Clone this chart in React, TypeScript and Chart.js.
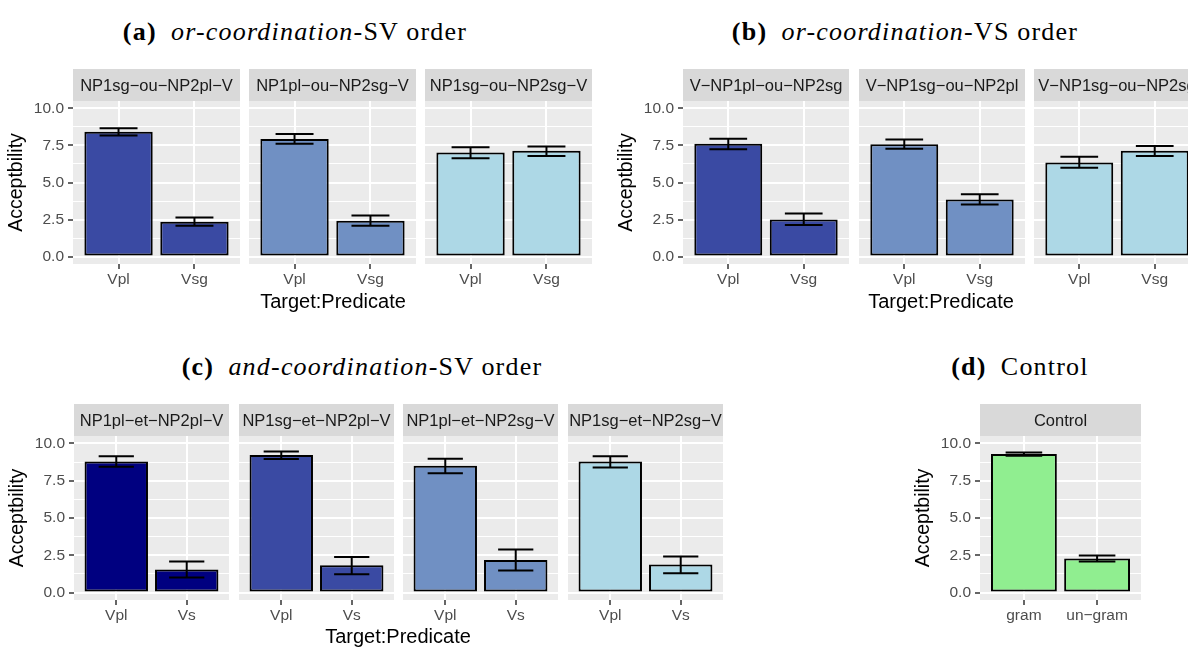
import React, { useEffect, useRef } from "react";
import { Chart, registerables } from "chart.js";

Chart.register(...registerables);

// ---------------- data ----------------
const Y_MAJOR = [0, 2.5, 5, 7.5, 10];
const Y_MINOR = [1.25, 3.75, 6.25, 8.75];

const PRED_OU = ["Vpl", "Vsg"];
const PRED_ET = ["Vpl", "Vs"];
const PRED_CTRL = ["gram", "un−gram"];

const FACETS_A = ["NP1sg−ou−NP2pl−V", "NP1pl−ou−NP2sg−V", "NP1sg−ou−NP2sg−V"];
const MEAN_A = [[8.43, 2.35], [7.94, 2.42], [7.02, 7.14]];
const LOW_A = [[8.17, 2.08], [7.61, 2.08], [6.64, 6.78]];
const HIGH_A = [[8.66, 2.64], [8.28, 2.77], [7.38, 7.43]];

const FACETS_B = ["V−NP1pl−ou−NP2sg", "V−NP1sg−ou−NP2pl", "V−NP1sg−ou−NP2sg"];
const MEAN_B = [[7.61, 2.51], [7.58, 3.85], [6.35, 7.14]];
const LOW_B = [[7.25, 2.13], [7.27, 3.51], [6.0, 6.78]];
const HIGH_B = [[7.96, 2.91], [7.9, 4.21], [6.73, 7.47]];

const FACETS_C = ["NP1pl−et−NP2pl−V", "NP1sg−et−NP2pl−V", "NP1pl−et−NP2sg−V", "NP1sg−et−NP2sg−V"];
const MEAN_C = [[8.79, 1.54], [9.22, 1.83], [8.5, 2.19], [8.79, 1.88]];
const LOW_C = [[8.43, 1.01], [8.96, 1.23], [8.0, 1.48], [8.39, 1.3]];
const HIGH_C = [[9.15, 2.08], [9.46, 2.39], [8.97, 2.88], [9.15, 2.42]];

const FACETS_D = ["Control"];
const MEAN_D = [[9.29, 2.28]];
const LOW_D = [[9.17, 2.08]];
const HIGH_D = [[9.4, 2.48]];

const FILL_A = ["#3A4AA3", "#7090C3", "#ADD8E6"];
const FILL_B = ["#3A4AA3", "#7090C3", "#ADD8E6"];
const FILL_C = ["#000080", "#3A4AA3", "#7090C3", "#ADD8E6"];
const FILL_D = ["#90EE90"];

const Y_TITLE = "Acceptbility";
const X_TITLE = "Target:Predicate";

// ---------------- layout / style ----------------
const SANS = '"Liberation Sans", Arial, sans-serif';
const SERIF = '"Liberation Serif", "Times New Roman", serif';
const STRIP_H = 32;
const X_AXIS_H = 30;
const Y_AXIS_W = 73;
const ERR_HALF = 0.25;

const COL_A = [73, 249, 425];
const COL_B = [683, 859, 1034];
const COL_C = [74, 239, 403, 568];
const COL_D = [980];

type FacetProps = {
  label: string;
  cats: string[];
  mean: number[];
  low: number[];
  high: number[];
  fill: string;
  showY: boolean;
  left: number;
  panelTop: number;
  width: number;
  panelH: number;
};

function Facet(p: FacetProps) {
  const ref = useRef<HTMLCanvasElement>(null);
  const axisW = p.showY ? Y_AXIS_W : 0;
  const cw = p.width + axisW;
  const ch = STRIP_H + p.panelH + X_AXIS_H;

  useEffect(() => {
    if (!ref.current) return;
    const facetPlugin = {
      id: "facet",
      beforeDraw(chart: any) {
        const { ctx, chartArea: a } = chart;
        ctx.save();
        ctx.fillStyle = "#EBEBEB";
        ctx.fillRect(a.left, a.top, a.right - a.left, a.bottom - a.top);
        ctx.fillStyle = "#D9D9D9";
        ctx.fillRect(a.left, a.top - STRIP_H, a.right - a.left, STRIP_H);
        ctx.fillStyle = "#1A1A1A";
        ctx.font = `16.5px ${SANS}`;
        ctx.textAlign = "center";
        ctx.textBaseline = "middle";
        ctx.fillText(p.label, (a.left + a.right) / 2, a.top - STRIP_H / 2 + 1);
        ctx.restore();
      },
      afterDatasetsDraw(chart: any) {
        const { ctx } = chart;
        const xs = chart.scales.x;
        const ys = chart.scales.y;
        const half = xs.getPixelForValue(1 + ERR_HALF) - xs.getPixelForValue(1);
        ctx.save();
        ctx.strokeStyle = "#000000";
        ctx.lineWidth = 2;
        p.low.forEach((lo, i) => {
          const x = xs.getPixelForValue(i + 1);
          const y1 = ys.getPixelForValue(lo);
          const y2 = ys.getPixelForValue(p.high[i]);
          ctx.beginPath();
          ctx.moveTo(x, y1);
          ctx.lineTo(x, y2);
          ctx.moveTo(x - half, y1);
          ctx.lineTo(x + half, y1);
          ctx.moveTo(x - half, y2);
          ctx.lineTo(x + half, y2);
          ctx.stroke();
        });
        ctx.restore();
      },
    };

    const chart = new Chart(ref.current, {
      type: "bar",
      data: {
        datasets: [
          {
            data: p.mean.map((v, i) => ({ x: i + 1, y: v })),
            backgroundColor: p.fill,
            borderColor: "#000000",
            borderWidth: 2,
            borderSkipped: false,
            barPercentage: 0.9,
            categoryPercentage: 1,
          } as any,
        ],
      },
      options: {
        responsive: false,
        animation: false,
        devicePixelRatio: 1,
        layout: { padding: { top: STRIP_H, left: 0, right: 0, bottom: 0 } },
        plugins: { legend: { display: false }, tooltip: { enabled: false } },
        scales: {
          x: {
            type: "linear",
            min: 0.4,
            max: 2.6,
            offset: false,
            afterBuildTicks: (s: any) => {
              s.ticks = p.cats.map((_, i) => ({ value: i + 1 }));
            },
            afterFit: (s: any) => {
              s.height = X_AXIS_H;
            },
            ticks: {
              autoSkip: false,
              maxRotation: 0,
              padding: 1,
              color: "#4D4D4D",
              font: { family: SANS, size: 15.5 },
              callback: (v: any) => p.cats[Math.round(Number(v)) - 1] ?? "",
            },
            grid: {
              color: "#FFFFFF",
              lineWidth: 2,
              offset: false,
              drawTicks: true,
              tickLength: 5,
              tickColor: "#333333",
              tickWidth: 1.5,
            },
            border: { display: false },
          } as any,
          y: {
            type: "linear",
            min: -0.5,
            max: 10.5,
            afterBuildTicks: (s: any) => {
              s.ticks = [...Y_MINOR, ...Y_MAJOR]
                .sort((a, b) => a - b)
                .map((v) => ({ value: v }));
            },
            afterFit: (s: any) => {
              s.width = axisW;
            },
            ticks: {
              display: p.showY,
              autoSkip: false,
              padding: 4,
              color: "#4D4D4D",
              font: { family: SANS, size: 15.5 },
              callback: (v: any) => (Y_MAJOR.includes(Number(v)) ? Number(v).toFixed(1) : ""),
            },
            grid: {
              color: "#FFFFFF",
              lineWidth: (c: any) => (c.tick && Y_MAJOR.includes(c.tick.value) ? 2 : 1),
              drawTicks: p.showY,
              tickLength: 5,
              tickWidth: 1.5,
              tickColor: (c: any) =>
                c.tick && Y_MAJOR.includes(c.tick.value) ? "#333333" : "rgba(0,0,0,0)",
            },
            border: { display: false },
            title: {
              display: p.showY,
              text: Y_TITLE,
              color: "#000000",
              font: { family: SANS, size: 19.5 },
              padding: { top: 5, bottom: 0 },
            },
          } as any,
        },
      },
      plugins: [facetPlugin as any],
    });
    return () => chart.destroy();
  }, []);

  return (
    <canvas
      ref={ref}
      width={cw}
      height={ch}
      style={{
        position: "absolute",
        left: p.left - axisW,
        top: p.panelTop - STRIP_H,
        width: cw,
        height: ch,
      }}
    />
  );
}

function SubTitle(props: { cx: number; cy: number; tag: string; ital: string; rest: string }) {
  return (
    <div
      style={{
        position: "absolute",
        left: props.cx - 300,
        width: 600,
        top: props.cy - 17,
        height: 34,
        lineHeight: "34px",
        textAlign: "center",
        fontFamily: SERIF,
        fontSize: 26,
        letterSpacing: 1.2,
        color: "#000",
        whiteSpace: "nowrap",
      }}
    >
      <b>{props.tag}</b>
      {"\u2002"}
      {props.ital ? <i>{props.ital}</i> : null}
      {props.rest}
    </div>
  );
}

function AxisTitle(props: { cx: number; cy: number }) {
  return (
    <div
      style={{
        position: "absolute",
        left: props.cx - 150,
        width: 300,
        top: props.cy - 12,
        height: 24,
        lineHeight: "24px",
        textAlign: "center",
        fontFamily: SANS,
        fontSize: 20,
        color: "#000",
        whiteSpace: "nowrap",
      }}
    >
      {X_TITLE}
    </div>
  );
}

export default function App() {
  return (
    <div
      style={{
        position: "absolute",
        left: 0,
        top: 0,
        width: 1188,
        height: 648,
        overflow: "hidden",
        background: "#FFFFFF",
      }}
    >
      <SubTitle cx={295} cy={32} tag="(a)" ital="or-coordination" rest="-SV order" />
      <SubTitle cx={905} cy={32} tag="(b)" ital="or-coordination" rest="-VS order" />
      <SubTitle cx={362} cy={367} tag="(c)" ital="and-coordination" rest="-SV order" />
      <SubTitle cx={1020} cy={367} tag="(d)" ital="" rest="Control" />

      {FACETS_A.map((f, i) => (
        <Facet
          key={"a" + i}
          label={f}
          cats={PRED_OU}
          mean={MEAN_A[i]}
          low={LOW_A[i]}
          high={HIGH_A[i]}
          fill={FILL_A[i]}
          showY={i === 0}
          left={COL_A[i]}
          panelTop={101}
          width={167}
          panelH={163}
        />
      ))}
      {FACETS_B.map((f, i) => (
        <Facet
          key={"b" + i}
          label={f}
          cats={PRED_OU}
          mean={MEAN_B[i]}
          low={LOW_B[i]}
          high={HIGH_B[i]}
          fill={FILL_B[i]}
          showY={i === 0}
          left={COL_B[i]}
          panelTop={101}
          width={166}
          panelH={163}
        />
      ))}
      {FACETS_C.map((f, i) => (
        <Facet
          key={"c" + i}
          label={f}
          cats={PRED_ET}
          mean={MEAN_C[i]}
          low={LOW_C[i]}
          high={HIGH_C[i]}
          fill={FILL_C[i]}
          showY={i === 0}
          left={COL_C[i]}
          panelTop={436}
          width={155}
          panelH={164}
        />
      ))}
      {FACETS_D.map((f, i) => (
        <Facet
          key={"d" + i}
          label={f}
          cats={PRED_CTRL}
          mean={MEAN_D[i]}
          low={LOW_D[i]}
          high={HIGH_D[i]}
          fill={FILL_D[i]}
          showY={i === 0}
          left={COL_D[i]}
          panelTop={436}
          width={161}
          panelH={164}
        />
      ))}

      <AxisTitle cx={333} cy={301} />
      <AxisTitle cx={941} cy={301} />
      <AxisTitle cx={398} cy={636} />
    </div>
  );
}
